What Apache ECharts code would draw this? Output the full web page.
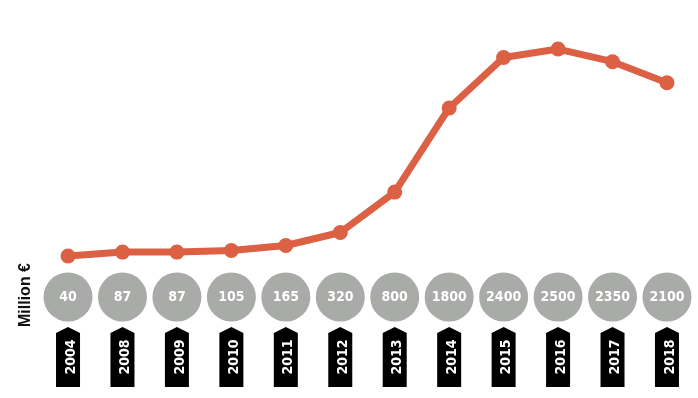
<!DOCTYPE html>
<html>
<head>
<meta charset="utf-8">
<script src="https://cdn.jsdelivr.net/npm/echarts@6/dist/echarts.min.js"></script>
<style>
  html, body { margin: 0; padding: 0; background: #fff; }
  #main { width: 698px; height: 398px; }
</style>
</head>
<body>
<div id="main"></div>
<script>
var years = ['2004', '2008', '2009', '2010', '2011', '2012', '2013', '2014', '2015', '2016', '2017', '2018'];
var values = [40, 87, 87, 105, 165, 320, 800, 1800, 2400, 2500, 2350, 2100];
var unitLabel = 'Million €';

var dom = document.getElementById('main');
var myChart = echarts.init(dom, null, { renderer: 'canvas' });

const lineColor = '#db6044';
const circleColor = '#a9aba8';
const font = '"DejaVu Sans Condensed", "DejaVu Sans", sans-serif';

// rows in the lower grid (pixels below its top edge)
const circleRow = 37;
const arrowRow = 97;

var option = {
  animation: false,
  grid: [
    { left: 40.8, right: 3.8, top: 7, height: 252.4 },
    { left: 40.8, right: 3.8, top: 260, height: 138 }
  ],
  xAxis: [
    { type: 'category', gridIndex: 0, data: years, show: false },
    { type: 'category', gridIndex: 1, data: years, show: false }
  ],
  yAxis: [
    { type: 'value', gridIndex: 0, min: 0, max: 3000, show: false },
    { type: 'value', gridIndex: 1, min: 0, max: 138, inverse: true, show: false }
  ],
  graphic: [
    {
      type: 'text',
      x: 26,
      y: 295,
      rotation: Math.PI / 2,
      style: {
        text: unitLabel,
        fill: '#111',
        font: 'bold 16px "Liberation Sans", sans-serif',
        textAlign: 'center',
        textVerticalAlign: 'middle'
      }
    }
  ],
  series: [
    {
      type: 'line',
      xAxisIndex: 0,
      yAxisIndex: 0,
      data: values,
      symbol: 'circle',
      symbolSize: 15,
      lineStyle: { color: lineColor, width: 7 },
      itemStyle: { color: lineColor }
    },
    {
      type: 'scatter',
      xAxisIndex: 1,
      yAxisIndex: 1,
      data: values.map((v, i) => [i, circleRow, v]),
      symbol: 'circle',
      symbolSize: 49,
      itemStyle: { color: circleColor, opacity: 1 },
      label: {
        show: true,
        position: 'inside',
        formatter: p => String(p.value[2]),
        color: '#fff',
        fontFamily: font,
        fontWeight: 'bold',
        fontSize: 14
      }
    },
    {
      type: 'scatter',
      xAxisIndex: 1,
      yAxisIndex: 1,
      data: years.map((y, i) => [i, arrowRow, y]),
      symbol: 'path://M0,6 L12,0 L24,6 L24,60 L0,60 Z',
      symbolSize: [24, 60],
      itemStyle: { color: '#000', opacity: 1 },
      label: {
        show: true,
        position: 'inside',
        rotate: 90,
        offset: [0, 3],
        formatter: p => p.value[2],
        color: '#fff',
        fontFamily: font,
        fontWeight: 'bold',
        fontSize: 14
      }
    }
  ]
};

myChart.setOption(option);
window.addEventListener('resize', myChart.resize);
</script>
</body>
</html>
